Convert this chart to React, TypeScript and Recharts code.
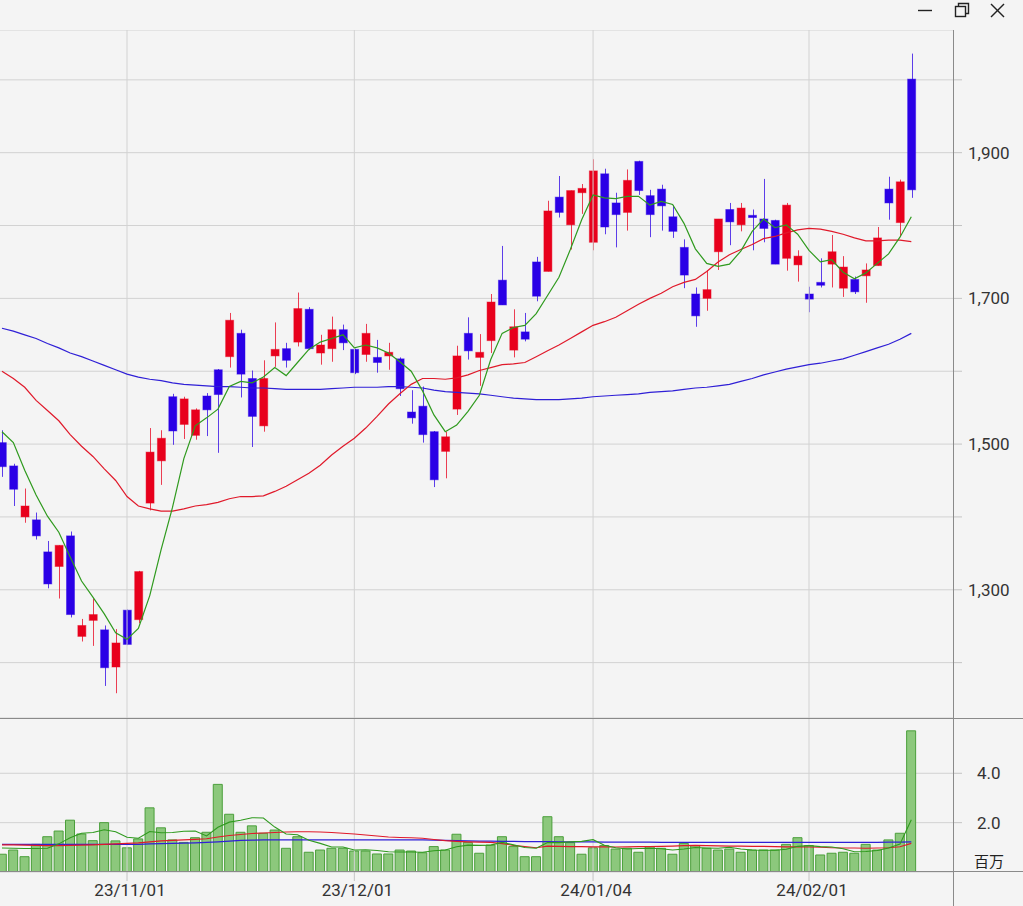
import { Bar, CartesianGrid, ComposedChart, Line, ReferenceLine, XAxis, YAxis } from "recharts";

// trading days, 23/10/17 .. 24/02/15
const dates = [
  "23/10/17", "23/10/18", "23/10/19", "23/10/20", "23/10/23", "23/10/24", "23/10/25", "23/10/26", "23/10/27", "23/10/30", "23/10/31",
  "23/11/01", "23/11/02", "23/11/06", "23/11/07", "23/11/08", "23/11/09", "23/11/10", "23/11/13", "23/11/14", "23/11/15",
  "23/11/16", "23/11/17", "23/11/20", "23/11/21", "23/11/22", "23/11/24", "23/11/27", "23/11/28", "23/11/29", "23/11/30",
  "23/12/01", "23/12/04", "23/12/05", "23/12/06", "23/12/07", "23/12/08", "23/12/11", "23/12/12", "23/12/13", "23/12/14",
  "23/12/15", "23/12/18", "23/12/19", "23/12/20", "23/12/21", "23/12/22", "23/12/25", "23/12/26", "23/12/27", "23/12/28", "23/12/29",
  "24/01/04", "24/01/05", "24/01/09", "24/01/10", "24/01/11", "24/01/12", "24/01/15", "24/01/16", "24/01/17", "24/01/18",
  "24/01/19", "24/01/22", "24/01/23", "24/01/24", "24/01/25", "24/01/26", "24/01/29", "24/01/30", "24/01/31",
  "24/02/01", "24/02/02", "24/02/05", "24/02/06", "24/02/07", "24/02/08", "24/02/09", "24/02/13", "24/02/14", "24/02/15",
];

const opens = [
  1502, 1470, 1400, 1396, 1352, 1332, 1374, 1236, 1258, 1245, 1194,
  1272, 1259, 1419, 1477, 1565, 1527, 1512, 1566, 1602, 1620, 1652, 1590, 1525, 1621, 1631, 1640, 1685, 1625, 1631, 1657,
  1630, 1623, 1619, 1621, 1617, 1544, 1552, 1517, 1490, 1548, 1652, 1619, 1642, 1725, 1629, 1654, 1750, 1737, 1839, 1801, 1845,
  1777, 1871, 1831, 1818, 1888, 1841, 1850, 1812, 1770, 1706, 1700, 1764, 1822, 1801, 1814, 1809, 1807, 1755, 1746,
  1706, 1722, 1747, 1714, 1726, 1731, 1745, 1850, 1804, 2001,
];
const highs = [
  1519, 1473, 1439, 1406, 1367, 1361, 1380, 1260, 1288, 1251, 1246,
  1273, 1326, 1522, 1519, 1569, 1565, 1549, 1570, 1603, 1680, 1657, 1601, 1615, 1667, 1639, 1708, 1688, 1650, 1675, 1664,
  1631, 1665, 1643, 1639, 1619, 1574, 1579, 1518, 1517, 1635, 1674, 1651, 1706, 1772, 1685, 1680, 1757, 1834, 1868, 1848, 1857,
  1891, 1878, 1845, 1877, 1889, 1849, 1856, 1828, 1781, 1715, 1738, 1809, 1831, 1831, 1822, 1864, 1808, 1831, 1766,
  1716, 1755, 1787, 1758, 1730, 1748, 1798, 1867, 1863, 2036,
];
const lows = [
  1455, 1415, 1392, 1369, 1302, 1288, 1262, 1229, 1223, 1168, 1158,
  1224, 1254, 1409, 1444, 1499, 1507, 1506, 1511, 1488, 1605, 1564, 1496, 1517, 1606, 1605, 1634, 1629, 1609, 1613, 1629,
  1596, 1613, 1598, 1602, 1566, 1528, 1502, 1441, 1453, 1540, 1616, 1580, 1625, 1691, 1619, 1641, 1696, 1737, 1811, 1767, 1816,
  1766, 1788, 1770, 1793, 1842, 1784, 1793, 1783, 1714, 1661, 1683, 1739, 1773, 1792, 1766, 1777, 1747, 1738, 1723,
  1681, 1715, 1715, 1702, 1706, 1694, 1745, 1808, 1785, 1838,
];
const closes = [
  1469, 1438, 1415, 1374, 1308, 1361, 1266, 1251, 1266, 1193, 1227,
  1225, 1325, 1489, 1508, 1518, 1562, 1547, 1547, 1568, 1670, 1596, 1538, 1590, 1630, 1615, 1686, 1631, 1636, 1657, 1639,
  1598, 1652, 1612, 1626, 1576, 1536, 1513, 1451, 1510, 1621, 1628, 1626, 1695, 1691, 1661, 1644, 1703, 1820, 1818, 1848, 1851,
  1875, 1798, 1815, 1862, 1848, 1815, 1827, 1792, 1732, 1676, 1712, 1809, 1805, 1824, 1811, 1796, 1747, 1828, 1758,
  1699, 1718, 1764, 1743, 1709, 1739, 1783, 1831, 1860, 1849,
];

// moving averages as drawn (5 / 25 / 75 days)
const ma5 = [
  1517, 1502, 1464, 1430, 1401, 1379, 1345, 1312, 1290, 1267, 1241,
  1232, 1247, 1292, 1355, 1413, 1480, 1525, 1536, 1548, 1579, 1586, 1584, 1592, 1605, 1594, 1612, 1630, 1640, 1645, 1650,
  1632, 1636, 1632, 1625, 1613, 1600, 1573, 1540, 1517, 1526, 1545, 1567, 1616, 1652, 1660, 1663, 1679, 1704, 1729, 1767, 1808,
  1842, 1838, 1837, 1840, 1840, 1828, 1833, 1829, 1803, 1768, 1748, 1744, 1747, 1765, 1792, 1809, 1797, 1801, 1788,
  1766, 1750, 1753, 1736, 1727, 1735, 1748, 1761, 1784, 1812,
];
const ma25 = [
  1600, 1590, 1578, 1560, 1546, 1532, 1513, 1497, 1483, 1466, 1450,
  1428, 1415, 1411, 1408, 1408, 1411, 1415, 1417, 1420, 1425, 1428, 1428, 1429, 1435, 1442, 1451, 1460, 1471, 1485, 1497,
  1508, 1522, 1538, 1555, 1569, 1582, 1590, 1590, 1589, 1591, 1595, 1601, 1605, 1609, 1610, 1612, 1620, 1628, 1636, 1645, 1654,
  1663, 1668, 1674, 1683, 1692, 1700, 1707, 1716, 1722, 1726, 1737, 1750, 1760, 1767, 1774, 1782, 1785, 1790, 1794,
  1796, 1795, 1792, 1788, 1783, 1779, 1779, 1780, 1780, 1778,
];
const ma75 = [
  1659, 1655, 1650, 1645, 1638, 1632, 1625, 1620, 1614, 1608, 1602,
  1596, 1592, 1589, 1587, 1584, 1582, 1581, 1580, 1579, 1579, 1578, 1577, 1577, 1576, 1575, 1575, 1575, 1575, 1576, 1577,
  1578, 1578, 1578, 1579, 1579, 1578, 1577, 1574, 1572, 1571, 1570, 1569, 1567, 1565, 1563, 1562, 1561, 1561, 1561, 1562, 1563,
  1565, 1566, 1567, 1568, 1569, 1571, 1572, 1573, 1575, 1577, 1578, 1580, 1582, 1586, 1590, 1595, 1599, 1603, 1606,
  1609, 1611, 1614, 1617, 1622, 1627, 1632, 1637, 1644, 1652,
];

// volume, millions of shares
const volumes = [
  0.72, 0.89, 0.62, 1.12, 1.43, 1.66, 2.1, 1.54, 1.27, 2.0, 1.26,
  0.98, 1.34, 2.6, 1.79, 1.3, 1.2, 1.39, 1.61, 3.55, 2.34, 1.61, 1.87, 1.57, 1.7, 0.96, 1.43, 0.8, 0.89, 0.96, 0.96,
  0.85, 0.85, 0.73, 0.73, 0.89, 0.85, 0.78, 1.03, 0.89, 1.53, 1.2, 0.76, 1.09, 1.43, 1.03, 0.62, 0.62, 2.24, 1.43, 1.19, 0.72,
  0.98, 1.07, 0.93, 0.96, 0.8, 1.03, 0.96, 0.72, 1.16, 1.07, 0.96, 0.89, 0.93, 0.8, 0.89, 0.89, 0.89, 1.12, 1.39,
  1.07, 0.69, 0.76, 0.8, 0.76, 1.12, 0.89, 1.3, 1.57, 5.72,
];
const volMa5 = [
  0.97, 0.96, 0.95, 0.95, 0.96, 1.14, 1.39, 1.57, 1.6, 1.71, 1.63,
  1.41, 1.37, 1.64, 1.59, 1.6, 1.65, 1.66, 1.46, 1.81, 2.02, 2.1, 2.2, 2.19, 1.82, 1.54, 1.51, 1.29, 1.16, 1.01, 1.01,
  0.89, 0.9, 0.87, 0.82, 0.81, 0.81, 0.8, 0.86, 0.89, 1.02, 1.09, 1.08, 1.09, 1.2, 1.1, 0.99, 0.96, 1.19, 1.19, 1.22, 1.24,
  1.31, 1.08, 0.98, 0.93, 0.95, 0.96, 0.94, 0.89, 0.93, 0.99, 0.97, 0.96, 1.0, 0.93, 0.89, 0.88, 0.88, 0.92, 1.04,
  1.07, 1.03, 1.01, 0.94, 0.82, 0.83, 0.87, 0.97, 1.13, 2.12,
];
const volMa25 = [
  1.1, 1.1, 1.09, 1.08, 1.07, 1.07, 1.08, 1.09, 1.1, 1.12, 1.14,
  1.16, 1.18, 1.22, 1.26, 1.28, 1.3, 1.32, 1.35, 1.42, 1.48, 1.52, 1.56, 1.58, 1.6, 1.62, 1.63, 1.63, 1.62, 1.6, 1.57,
  1.54, 1.5, 1.46, 1.42, 1.4, 1.39, 1.37, 1.32, 1.27, 1.24, 1.22, 1.21, 1.2, 1.15, 1.08, 1.03, 0.98, 1.05, 1.04, 1.03, 1.03,
  1.02, 1.02, 1.01, 1.02, 1.03, 1.03, 1.04, 1.05, 1.07, 1.08, 1.07, 1.06, 1.05, 1.05, 1.04, 1.04, 1.03, 1.02, 1.02,
  1.01, 1.0, 0.98, 0.97, 0.97, 0.96, 0.97, 0.98, 1.02, 1.16,
];
const volMa75 = [
  1.12, 1.12, 1.12, 1.12, 1.12, 1.12, 1.12, 1.12, 1.12, 1.12, 1.12,
  1.12, 1.12, 1.14, 1.15, 1.16, 1.17, 1.18, 1.2, 1.22, 1.25, 1.28, 1.29, 1.3, 1.3, 1.3, 1.3, 1.3, 1.3, 1.3, 1.3,
  1.3, 1.3, 1.3, 1.3, 1.3, 1.3, 1.3, 1.29, 1.28, 1.27, 1.26, 1.25, 1.25, 1.24, 1.24, 1.23, 1.23, 1.23, 1.22, 1.22, 1.22,
  1.22, 1.21, 1.21, 1.21, 1.21, 1.21, 1.2, 1.2, 1.2, 1.2, 1.2, 1.2, 1.2, 1.2, 1.2, 1.2, 1.2, 1.2, 1.2,
  1.2, 1.2, 1.2, 1.2, 1.2, 1.2, 1.2, 1.21, 1.21, 1.22,
];

const dateTicks = ["23/11/01", "23/12/01", "24/01/04", "24/02/01"];
const priceTicks = [1200, 1300, 1400, 1500, 1600, 1700, 1800, 1900, 2000];
const priceLabels = [1300, 1500, 1700, 1900];
const volumeTicks = [2, 4];

const rows = dates.map((date, i) => ({
  date,
  open: opens[i],
  high: highs[i],
  low: lows[i],
  close: closes[i],
  range: [lows[i], highs[i]],
  ma5: ma5[i],
  ma25: ma25[i],
  ma75: ma75[i],
  volume: volumes[i],
  volMa5: volMa5[i],
  volMa25: volMa25[i],
  volMa75: volMa75[i],
}));

const UP = "#e8001c";
const DOWN = "#2a00e6";
const GRID = "#d2d2d2";
const FONT = "Roboto, 'Noto Sans', sans-serif";
const W = 1023;
const AXIS_W = 69;
const MARGIN = { top: 0, right: 0, bottom: 0, left: -3.7 };
const PAD = { left: 0, right: 37 };

function Candle(props: any) {
  const { x, y, width, height, payload } = props;
  if (!payload) return null;
  const { open, close, high, low } = payload;
  const top = Math.min(y, y + height);
  const h = Math.abs(height);
  const span = high - low || 1;
  const py = (v: number) => top + ((high - v) / span) * h;
  const color = close >= open ? UP : DOWN;
  const cx = Math.round(x + width / 2) + 0.5;
  const b1 = py(Math.max(open, close));
  const b2 = py(Math.min(open, close));
  return (
    <g>
      <line x1={cx} x2={cx} y1={top} y2={top + h} stroke={color} strokeOpacity={0.75} />
      <rect x={x} y={b1} width={width} height={Math.max(b2 - b1, 1.5)} fill={color} stroke={color} strokeOpacity={0.45} />
    </g>
  );
}

const tickStyle = { fill: "#333", fontSize: 17, fontFamily: FONT };

function WindowButtons() {
  return (
    <svg width={W} height={30} style={{ position: "absolute", left: 0, top: 0 }}>
      <g stroke="#222" strokeWidth={1.4} fill="none">
        <line x1={918} x2={932} y1={10.5} y2={10.5} />
        <rect x={955.5} y={6.5} width={10} height={10} />
        <path d="M958.5 6.5 V3.5 H968.5 V13.5 H965.5" />
        <line x1={991} x2={1004} y1={4} y2={17} />
        <line x1={1004} x2={991} y1={4} y2={17} />
      </g>
    </svg>
  );
}

export default function App() {
  return (
    <div
      style={{
        position: "absolute",
        left: 0,
        top: 0,
        width: W,
        height: 906,
        background: "#f4f4f4",
        fontFamily: FONT,
        overflow: "hidden",
      }}
    >
      <WindowButtons />
      <div style={{ position: "absolute", left: 0, top: 30 }}>
        <ComposedChart width={W} height={688} data={rows} margin={MARGIN}>
          <CartesianGrid vertical={false} stroke={GRID} />
          <XAxis dataKey="date" hide padding={PAD} />
          <YAxis
            orientation="right"
            width={AXIS_W}
            domain={[1124, 2068.4]}
            ticks={priceTicks}
            allowDataOverflow
            axisLine={false}
            tickLine={{ stroke: "#c4c4c4" }}
            tickSize={8}
            tickMargin={6}
            tick={tickStyle}
            tickFormatter={(v: number) => (priceLabels.includes(v) ? v.toLocaleString("en-US") : "")}
          />
          {dateTicks.map((d) => (
            <ReferenceLine key={d} x={d} stroke={GRID} />
          ))}
          <Bar dataKey="range" barSize={8} isAnimationActive={false} shape={(p: any) => <Candle {...p} />} />
          <Line type="linear" dataKey="ma75" stroke="#2f1fd6" strokeWidth={1.2} dot={false} isAnimationActive={false} />
          <Line type="linear" dataKey="ma25" stroke="#e0192a" strokeWidth={1.2} dot={false} isAnimationActive={false} />
          <Line type="linear" dataKey="ma5" stroke="#2f9a1e" strokeWidth={1.2} dot={false} isAnimationActive={false} />
        </ComposedChart>
      </div>
      <div style={{ position: "absolute", left: 0, top: 718 }}>
        <ComposedChart width={W} height={188} data={rows} margin={MARGIN}>
          <CartesianGrid vertical={false} stroke={GRID} />
          <XAxis
            dataKey="date"
            padding={PAD}
            height={34}
            ticks={dateTicks}
            interval={0}
            axisLine={false}
            tickLine={{ stroke: "#c4c4c4" }}
            tickSize={9}
            tickMargin={3}
            tick={{ ...tickStyle, dx: 3 }}
          />
          <YAxis
            orientation="right"
            width={AXIS_W}
            domain={[0, 6.24]}
            ticks={volumeTicks}
            allowDataOverflow
            axisLine={false}
            tickLine={{ stroke: "#c4c4c4" }}
            tickSize={8}
            tickMargin={15}
            tick={tickStyle}
            tickFormatter={(v: number) => v.toFixed(1)}
          />
          {dateTicks.map((d) => (
            <ReferenceLine key={d} x={d} stroke={GRID} />
          ))}
          <Bar dataKey="volume" barSize={9} fill="#8cc87c" stroke="#4b9f3b" isAnimationActive={false} />
          <Line type="linear" dataKey="volMa75" stroke="#2f1fd6" strokeWidth={1.1} dot={false} isAnimationActive={false} />
          <Line type="linear" dataKey="volMa25" stroke="#e0192a" strokeWidth={1.1} dot={false} isAnimationActive={false} />
          <Line type="linear" dataKey="volMa5" stroke="#2f9a1e" strokeWidth={1.1} dot={false} isAnimationActive={false} />
        </ComposedChart>
        <div style={{ position: "absolute", left: 974, top: 132, fontSize: 15, color: "#222", fontFamily: "'Noto Sans CJK JP', sans-serif" }}>
          百万
        </div>
      </div>
      <div style={{ position: "absolute", left: 0, top: 718, width: W, height: 1, background: "#8a8a8a" }} />
      <div style={{ position: "absolute", left: 0, top: 871, width: W, height: 1, background: "#8a8a8a" }} />
      <div style={{ position: "absolute", left: 953, top: 30, width: 1, height: 876, background: "#8a8a8a" }} />
    </div>
  );
}
